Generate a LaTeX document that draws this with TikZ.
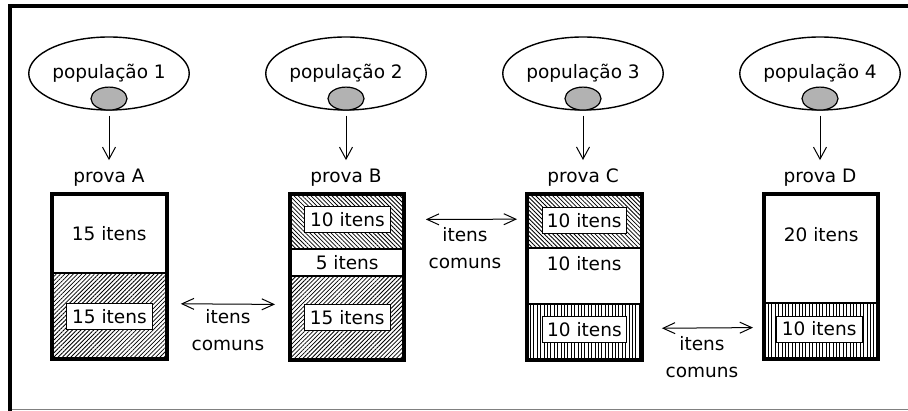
\documentclass[tikz,border=0pt]{standalone}
\usepackage{fontspec}
\setmainfont{DejaVu Sans}
\usetikzlibrary{shapes.geometric,arrows.meta,patterns.meta}
\begin{document}
\begin{tikzpicture}[x=1pt,y=-1pt,
  every node/.style={font=\fontsize{18.5}{22}\selectfont},
  pop/.style={ellipse,draw,line width=1.4pt,minimum width=116pt,minimum height=73pt,inner sep=0pt},
  sample/.style={ellipse,draw,line width=1.2pt,fill=gray!60,minimum width=36pt,minimum height=23pt,inner sep=0pt,anchor=south},
  sect/.style={rectangle,inner sep=0pt,minimum width=114pt,anchor=north west},
  ne/.style={pattern={Lines[angle=45,distance=3pt,line width=0.8pt]}},
  nw/.style={pattern={Lines[angle=-45,distance=3pt,line width=0.8pt]}},
  vl/.style={pattern={Lines[angle=90,distance=3.4pt,line width=0.9pt]}},
  itembox/.style={rectangle,draw,fill=white,line width=1.1pt,minimum width=86pt,minimum height=26pt,inner sep=0pt},
  provalbl/.style={inner sep=0pt},
  comm/.style={align=center,inner sep=0pt,font=\fontsize{18.5}{27}\selectfont},
  arr/.style={line width=1pt,-{Straight Barb[length=12pt,width=13pt]},shorten <=5pt,shorten >=9pt},
  dbl/.style={line width=1pt,{Straight Barb[length=12pt,width=11pt]}-{Straight Barb[length=12pt,width=11pt]}},
  outline/.style={line width=4pt},
  divider/.style={line width=2pt}
]
\useasboundingbox (0,0) rectangle (908,411);
% frame
\draw[line width=4pt] (10,411) -- (10,6.5) -- (908,6.5);
\draw[gray,line width=1.5pt] (12,409.5) -- (908,409.5);

% populations
\node[pop] (popA) at (109,73.5) {população 1};
\node[pop] (popB) at (346,73.5) {população 2};
\node[pop] (popC) at (583,73.5) {população 3};
\node[pop] (popD) at (820,73.5) {população 4};
\node[sample] (sA) at (popA.south) {};
\node[sample] (sB) at (popB.south) {};
\node[sample] (sC) at (popC.south) {};
\node[sample] (sD) at (popD.south) {};

% prova labels
\node[provalbl] (provaA) at (109,178) {prova A};
\node[provalbl] (provaB) at (346,178) {prova B};
\node[provalbl] (provaC) at (583,178) {prova C};
\node[provalbl] (provaD) at (820,178) {prova D};
\draw[arr] (popA.south) -- (provaA.north);
\draw[arr] (popB.south) -- (provaB.north);
\draw[arr] (popC.south) -- (provaC.north);
\draw[arr] (popD.south) -- (provaD.north);

% prova A
\node[sect,minimum height=79pt] (A1) at (52,194) {15 itens};
\node[sect,ne,minimum height=85pt] (A2) at (A1.south west) {};
\node[itembox] (A2i) at (A2.center) {15 itens};
\draw[divider] (A1.south west) -- (A1.south east);
\draw[outline] (A1.north west) rectangle (A2.south east);

% prova B
\node[sect,nw,minimum height=54pt] (B1) at (290,194) {};
\node[sect,minimum height=27pt] (B2) at (B1.south west) {5 itens};
\node[sect,ne,minimum height=83pt] (B3) at (B2.south west) {};
\node[itembox] (B1i) at ([yshift=1.5pt]B1.center) {10 itens};
\node[itembox] (B3i) at (B3.center) {15 itens};
\draw[divider] (B1.south west) -- (B1.south east);
\draw[divider] (B2.south west) -- (B2.south east);
\draw[outline] (B1.north west) rectangle (B3.south east);

% prova C
\node[sect,nw,minimum height=54pt] (C1) at (527,194) {};
\node[sect,minimum height=55pt] (C2) at (C1.south west) {};
\node[sect,vl,minimum height=55pt] (C3) at (C2.south west) {};
\node[itembox,minimum width=84pt] (C1i) at ([yshift=1pt]C1.center) {10 itens};
\node[inner sep=0pt] (C2t) at ([yshift=-15pt]C2.north) {10 itens};
\node[itembox,minimum width=84pt] (C3i) at ([yshift=2pt]C3.center) {10 itens};
\draw[divider] (C1.south west) -- (C1.south east);
\draw[divider] (C2.south west) -- (C2.south east);
\draw[outline] (C1.north west) rectangle (C3.south east);

% prova D
\node[sect,minimum height=109pt] (D1) at (764,194) {};
\node[sect,vl,minimum height=55pt] (D2) at (D1.south west) {};
\node[inner sep=0pt] (D1t) at ([yshift=-41pt]D1.north) {20 itens};
\node[itembox] (D2i) at ([yshift=2pt,xshift=-2pt]D2.center) {10 itens};
\draw[divider] (D1.south west) -- (D1.south east);
\draw[outline] (D1.north west) rectangle (D2.south east);

% common items arrows
\draw[dbl] ([xshift=14pt,yshift=12.5pt]A2.east) -- ([xshift=-15pt,yshift=13.5pt]B3.west);
\node[comm] (cAB) at (228,330) {itens\\comuns};
\draw[dbl] ([xshift=21pt,yshift=2pt]B1.east) -- ([xshift=-10pt,yshift=2pt]C1.west);
\node[comm] (cBC) at (465,248.5) {itens\\comuns};
\draw[dbl] ([xshift=20pt,yshift=3.5pt]C3.east) -- ([xshift=-11pt,yshift=3.5pt]D2.west);
\node[comm] (cCD) at (702,357.5) {itens\\comuns};
\end{tikzpicture}
\end{document}
